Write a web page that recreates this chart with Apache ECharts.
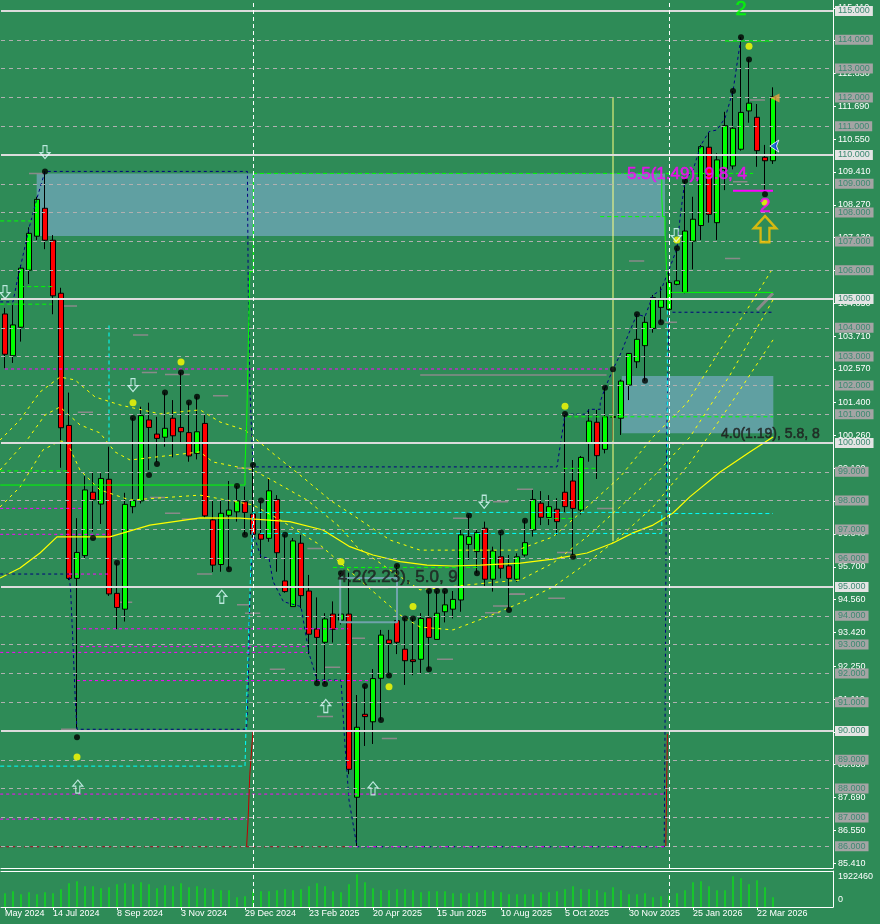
<!DOCTYPE html>
<html><head><meta charset="utf-8">
<script src="https://cdn.jsdelivr.net/npm/echarts@6/dist/echarts.min.js"></script>
<style>html,body{margin:0;padding:0;background:#2e8b57}#c{width:880px;height:924px}</style>
</head><body><div id="c"></div>
<script>
// ---------------- data (weekly bars) ----------------
const opens = [104.48,103.03,104.02,106.00,107.18,108.15,107.04,105.20,100.61,95.30,
96.09,98.29,97.88,98.74,94.78,94.23,97.79,97.99,100.80,100.31,
100.20,100.86,100.54,100.36,99.64,100.68,97.33,95.78,97.49,97.61,
97.96,97.53,96.84,96.69,98.04,95.21,94.32,96.52,94.86,93.54,
93.08,94.06,93.85,94.06,87.70,90.58,90.32,91.83,93.16,93.83,
92.84,92.47,92.49,93.93,93.18,94.14,94.23,94.55,96.48,96.23,
97.04,95.27,96.05,95.73,95.27,96.11,96.98,97.91,97.41,97.70,
98.29,98.68,97.67,99.99,100.72,99.78,100.89,100.86,102.01,102.82,
103.38,103.98,104.71,104.64,105.51,105.23,107.01,107.55,110.27,107.65,
109.50,109.62,110.20,111.53,111.31,109.92,109.80];
const highs = [104.69,104.79,106.18,107.49,108.55,109.43,107.22,105.39,101.75,97.39,
98.85,99.00,98.95,99.87,95.84,98.27,100.87,101.26,101.40,100.91,
101.75,101.49,102.45,101.41,101.61,100.97,97.99,98.02,98.68,98.51,
98.48,99.24,98.02,98.77,98.19,96.81,96.70,96.81,95.42,94.64,
94.09,94.50,95.48,95.50,91.25,91.54,92.15,93.51,93.51,95.76,
93.91,93.91,94.09,94.86,94.86,94.86,94.86,96.98,97.50,96.98,
97.27,96.40,96.92,96.11,96.17,97.33,98.37,98.33,98.19,98.08,
101.01,99.41,99.55,101.17,101.15,101.92,102.56,102.20,103.12,104.47,
104.39,105.14,105.43,105.95,106.76,109.10,108.55,110.35,110.77,110.06,
111.50,112.22,114.09,113.32,111.77,110.35,112.35];
const lows = [102.60,102.78,103.52,105.52,107.05,106.73,104.47,99.14,95.24,90.09,
96.00,96.92,97.19,94.69,93.54,93.80,97.56,97.90,99.06,99.34,
99.87,99.50,99.99,99.35,99.43,97.40,95.52,95.53,95.62,97.27,
96.81,96.72,96.00,96.57,95.53,94.80,94.32,94.26,92.67,91.71,
91.65,93.07,93.70,88.50,85.98,89.48,89.55,90.38,91.94,92.67,
91.60,91.94,92.00,92.14,93.18,93.77,93.91,94.14,95.94,95.48,
95.03,94.84,95.30,94.26,95.18,96.05,96.75,97.15,97.15,96.81,
97.60,96.05,97.52,99.35,98.75,99.64,100.08,100.28,101.49,102.60,
102.16,103.83,104.19,104.60,105.48,105.20,106.03,107.05,107.65,107.05,
108.78,109.50,110.15,111.12,109.59,108.72,109.69];
const closes = [103.08,104.10,106.07,107.28,108.46,107.04,105.11,100.53,95.30,96.20,
98.37,98.03,98.77,94.76,94.29,97.87,98.00,100.95,100.54,100.16,
100.51,100.25,100.39,99.55,100.39,97.47,95.76,97.56,97.67,97.99,
97.59,96.83,96.66,98.34,96.19,94.84,96.60,94.70,93.36,93.25,
93.89,93.53,94.06,88.67,90.13,90.50,91.82,93.33,93.04,93.08,
92.44,92.41,93.91,93.25,94.09,94.38,94.57,96.81,96.75,96.89,
95.27,96.25,95.65,95.30,96.05,96.54,98.04,97.42,97.79,97.27,
97.79,97.73,99.50,100.76,99.56,100.91,100.92,102.15,103.11,103.60,
104.19,105.05,104.97,105.57,105.63,107.36,107.77,110.29,107.94,109.83,
111.02,110.93,111.48,111.80,110.15,109.80,112.02];
const volumes = [732000,838000,678000,785000,678000,785000,732000,945000,1266000,1372000,
1105000,1105000,999000,1052000,1212000,1266000,1212000,1319000,1212000,999000,
1159000,1105000,1266000,1052000,1105000,999000,945000,892000,892000,518000,
571000,838000,838000,838000,892000,945000,892000,945000,1105000,1266000,
1105000,838000,785000,1212000,1746000,1319000,999000,892000,892000,945000,
945000,892000,785000,838000,838000,838000,732000,732000,732000,785000,
892000,838000,785000,678000,678000,678000,678000,785000,785000,838000,
945000,1105000,945000,945000,892000,785000,1052000,892000,678000,678000,
732000,518000,571000,625000,732000,892000,1319000,1372000,1105000,892000,
892000,1639000,1533000,1212000,1426000,1052000,518000];
const dateTicks = [[0,'May 2024'],[6,'14 Jul 2024'],[14,'8 Sep 2024'],[22,'3 Nov 2024'],[30,'29 Dec 2024'],
 [38,'23 Feb 2025'],[46,'20 Apr 2025'],[54,'15 Jun 2025'],[62,'10 Aug 2025'],[70,'5 Oct 2025'],
 [78,'30 Nov 2025'],[86,'25 Jan 2026'],[94,'22 Mar 2026']];
const priceTicks = [85.41,86.55,87.69,88.83,89.97,91.11,92.25,93.42,94.56,95.70,96.84,97.98,99.12,
 100.26,101.40,102.57,103.71,104.85,105.99,107.13,108.27,109.41,110.55,111.69,112.83,113.97,115.11];
const levelLines = [86,87,88,89,90,91,92,93,94,95,96,97,98,99,100,101,102,103,104,105,106,107,108,109,110,111,112,113,114,115];
const majorLevels = [90,95,100,105,110,115];
const separators = [31,83];
const volMaxLabel = 1922460;

const blackDots = [[5,109.43],[14,95.84],[16,100.87],[20,101.75],[22,102.45],[23,101.41],[24,101.61],[29,98.51],[31,99.24],[32,98.0],[35,96.81],[42,95.48],[45,91.56],[49,95.73],[50,93.91],[51,93.91],[53,94.86],[54,94.86],[55,94.86],[58,97.48],[62,96.89],[65,97.30],[70,101.01],[75,101.92],[76,102.56],[79,104.47],[84,106.76],[85,109.10],[91,112.22],[92,114.09],[93,113.32],
 [9,89.78],[11,96.70],[18,98.89],[19,99.27],[28,95.62],[30,96.81],[39,91.66],[40,91.63],[47,90.38],[48,91.93],[53,92.14],[59,95.48],[63,94.2],[71,96.05],[80,102.16],[82,104.19],[95,108.64]];
const yellowDots = [[9,89.10],[16,101.40],[22,102.81],[42,95.88],[48,91.54],[51,94.32],[70,101.28],[84,107.05],[93,113.78],[95,108.36]];
const arrowsDown = [[0,105.24],[5,110.10],[16,102.01],[59.9,97.96],[83.9,107.22]];
const arrowsUp = [[9.1,88.07],[27.1,94.66],[40.1,90.87],[46,88.01]];
const bigArrow = [[95,107.43]];

// overlay lines (bar index, price)
const navyUpper = [[-0.6,104.90],[1,104.90],[1.5,105.6],[2,106.2],[3,107.45],[4,108.5],[5,109.43],[30.3,109.43],[30.4,105.5],[30.6,102],[31,99.17],[69,99.17],[70,101.0],[72.6,101.0],[73,101.17],[74.4,101.17],[74.4,101.43],[75,101.9],[76,102.56],[77,103.13],[78,103.82],[79,104.47],[80,104.39],[81,105.14],[82,105.31],[83,106.01],[84,106.76],[84.4,107.86],[85,109.13],[86,109.48],[87,110.35],[88,110.81],[89,110.87],[90,111.28],[91,112.22],[92,114.09]];
const navyLower = [[-0.6,95.45],[8,95.45],[8.2,94.9],[8.5,93.0],[8.8,91.0],[9,90.06],[30.2,90.06],[30.4,91.5],[30.6,94.5],[31,96.87],[32,96.05],[33,96.0],[33.5,95.2],[34.8,94.49],[37,94.32],[38,92.70],[39,91.77],[42,91.77],[42.5,89.5],[43,87.6],[44,85.98],[82.4,85.98],[82.5,90],[82.7,100],[83,104.54],[96,104.54]];
const maSolid = [[-0.625,95.31],[1.875,95.66],[4.375,96.18],[6.5,96.74],[13.1,96.74],[18.1,97.15],[24.4,97.40],[29.4,97.39],[35.6,97.27],[39.75,96.98],[43.1,96.40],[46,96.11],[49.4,95.88],[52.75,95.76],[56,95.73],[59.4,95.76],[64.4,95.83],[68.5,95.97],[72.75,96.18],[76,96.53],[78.5,96.88],[81,97.15],[83.5,97.57],[85.6,98.13],[89.4,98.99],[93.1,99.69],[96,100.21]];
const bandUpper = [[-0.625,100.10],[1.875,100.80],[4.375,101.77],[6.875,102.29],[8.75,102.19],[11.25,101.60],[14.375,101.32],[19.375,101.01],[24.375,101.15],[26.875,100.73],[30,100.45],[33.75,99.58],[36.875,98.89],[40.625,98.02],[44.375,97.33],[48.125,96.63],[51.875,96.28],[58.125,96.28],[64,96.28],[68.5,96.74],[72.75,97.78],[76.875,98.82],[81,100.21],[85.25,101.39],[89.375,103.23],[93.125,104.79],[96,106.08]];
const bandMiddle = [[-0.625,99.06],[2.75,100.10],[5,100.97],[6.875,101.25],[9.375,100.63],[11.875,100.35],[13.75,99.69],[15.625,99.41],[24.375,99.69],[26,99.34],[31,99.06],[33.75,98.65],[37.75,98.02],[41.875,97.08],[44,96.39],[48.125,95.59],[51.875,94.90],[60.25,95.14],[64.375,95.24],[68.5,95.83],[72.75,96.74],[76.875,97.78],[81,98.82],[85.625,100.21],[90.625,102.36],[96,104.97]];
const bandLower = [[-0.625,97.78],[1.875,98.47],[4.75,99.76],[6.875,100.07],[7.75,100.03],[9.375,99.06],[11.875,98.37],[15.625,98.02],[24.375,98.19],[31,97.85],[34.375,97.33],[39.375,96.46],[44.375,95.24],[49.375,94.03],[51.875,93.61],[56,93.51],[60.25,93.96],[64.375,94.44],[68.5,95.0],[72.75,95.83],[76.875,96.74],[81,97.78],[85.625,99.31],[90.625,101.32],[96,103.58]];
const limeSolid = [
 [[-0.6,98.54],[30,98.54],[30,99.24],[30.2,99.24],[30.2,100.57],[30.4,100.57],[30.4,103.23],[30.6,103.23],[30.6,105.95],[31.04,105.95],[31.04,109.3]],
 [[82.1,109.3],[82.1,108.55],[82.2,108.55],[82.2,107.86],[82.5,107.86],[82.5,107.28],[82.7,107.28],[82.7,106.0],[82.9,106.0],[82.9,105.23],[96,105.23]],
 [[90,113.96],[96,113.96]]];
const limeDashed = [
 [[31,109.36],[93.5,109.36]], [[-0.6,107.71],[3.6,107.71]], [[74.4,107.86],[82.2,107.86]],
 [[1.9,105.43],[5.9,105.43]], [[-0.6,104.82],[5.9,104.82]], [[-0.6,99.03],[7.9,99.03]],
 [[41,95.68],[59,95.68]], [[70.3,100.91],[96,100.91]], [[69.8,99.12],[74,99.12]], [[67.8,97.38],[71,97.38]]];
const cyanDashed = [
 [[-0.6,88.78],[30,88.78],[30.3,92],[30.7,95.5],[31,97.59],[82.1,97.59],[82.1,96.86]],
 [[31.9,96.86],[82.1,96.86]],
 [[82.8,104.6],[82.8,97.55],[96,97.55]],
 [[13,104.08],[13,100.0]]];
const magentaDashed = [
 [[0,102.57],[76,102.57]], [[-0.6,97.73],[9.8,97.73]], [[-0.6,96.83],[13,96.83]], [[8,95.45],[13,95.45]],
 [[9,93.55],[42.9,93.55]], [[9.4,92.93],[37.8,92.93]], [[-0.6,92.73],[37.8,92.73]], [[9,91.75],[45.6,91.75]],
 [[-0.6,87.81],[82.4,87.81]], [[-0.6,86.94],[30.3,86.94]], [[43,85.98],[82.4,85.98]]];
const darkRed = [[[-0.6,85.98],[43,85.98]]];
const redVerticals = [[[31,90.0],[30.6,88.5],[30.4,87],[30.2,85.98]], [[82.8,89.9],[82.7,88.0],[82.6,85.98]]];
const yellowVertical = [[76,112.01],[76,96.60]];
const boxOutline = [[41.9,95.31],[49.0,95.31],[49.0,93.78],[41.9,93.78],[41.9,95.31]];
const magentaSolid = [[91,108.76],[96,108.76]];
const rectangles = [[[3.96,109.36],[82.5,107.19]], [[77.1,102.33],[96.04,100.34]]];
// short grey level marks: [from bar, to bar, price]
const greyMarks = [[3,5,109.36],[7.1,9,104.76],[16,17.9,103.75],[17.1,19,102.45],[20,23.1,102.38],[26,27.9,101.64],[9.1,11,101.07],[29,31,99.12],
 [18.1,20,98.11],[20,21.9,97.56],[22.1,24,97.36],[24,25.9,95.45],[29,30.6,94.38],[30,31.9,94.09],[14,15.9,94.47],[7,9,90.06],
 [37.8,39.8,96.34],[33.1,35,92.14],[40,41.9,92.21],[39,41,90.50],[43.1,45,93.22],[46,47.9,94.98],[47.1,49,89.74],[54,56,92.49],
 [61,62.9,97.96],[64,66,98.39],[63.1,65,94.76],[61,62.9,94.34],[56,58.1,97.39],[60,61.9,94.11],
 [74,76,97.73],[69,71,96.20],[62.9,65,94.75],[67.9,70,94.61],[90,91.9,106.41],[78,79.9,106.32],[82.5,84,104.19],[91,92.8,109.07],[93.1,95,111.91],
 [51.9,75.2,102.36]];
const greyDiagonal = [[94,104.62],[96,105.2]];
const notes = [
 {t:'2', at:[92,115.07], c:'#00ff00', s:20, a:'center'},
 {t:'2', at:[95,108.2], c:'#ff00ff', s:20, a:'center'},
 {t:'5.5(1.49), 9.8, 4', at:[77.75,109.34], c:'#ff00ff', s:17, a:'left'},
 {t:'4.2(2.23), 5.0, 9', at:[41.6,95.32], c:'#1e1e1e', s:17, a:'left'},
 {t:'4.0(1.19), 5.8, 8', at:[89.5,100.31], c:'#1e1e1e', s:14, a:'left'}];

// ---------------- chart ----------------
const N = 104;
const cats = Array.from({length:N}, (_, i) => String(i));
const tickMap = {}; dateTicks.forEach(d => tickMap[d[0]] = d[1]);
const candles = opens.map((o, i) => [o, closes[i], lows[i], highs[i]]);
const FONT = 'Liberation Sans, Arial, sans-serif';

function ln(data, color, width, type, z) {
  return {type:'line', xAxisIndex:1, yAxisIndex:0, data, symbol:'none', silent:true, animation:false,
    lineStyle:{color, width, type}, z: z || 4};
}
const overlay = [];
greyMarks.forEach(g => overlay.push(ln([[g[0], g[2]], [g[1], g[2]]], '#8a8a8a', 1.5, 'solid', 2)));
overlay.push(ln(greyDiagonal, '#8a8a8a', 3, 'solid', 4));
overlay.push(ln(maSolid, '#ffff00', 1.2, 'solid', 4));
[bandUpper, bandMiddle, bandLower].forEach(d => overlay.push(ln(d, '#ffff00', 1, [3,4], 4)));
overlay.push(ln(navyUpper, '#000080', 1, [3,3], 4));
overlay.push(ln(navyLower, '#000080', 1, [3,3], 4));
limeSolid.forEach(d => overlay.push(ln(d, '#00ff00', 1, 'solid', 4)));
limeDashed.forEach(d => overlay.push(ln(d, '#00ff00', 1, [4,3], 4)));
cyanDashed.forEach(d => overlay.push(ln(d, '#00ffff', 1, [4,3], 4)));
magentaDashed.forEach(d => overlay.push(ln(d, '#ff00ff', 1, [3,3], 4)));
darkRed.forEach(d => overlay.push(ln(d, '#b00020', 1, [3,3], 4)));
redVerticals.forEach(d => overlay.push(ln(d, '#c00000', 1, 'solid', 4)));
overlay.push(ln(yellowVertical, '#ffff80', 1, 'solid', 4));
overlay.push(ln(boxOutline, '#6fa3ab', 2, 'solid', 4));
overlay.push(ln(magentaSolid, '#ff00ff', 2, 'solid', 4));

const levelMarks = levelLines.map(v => {
  const major = majorLevels.includes(v);
  return {yAxis: v,
    lineStyle: major ? {color:'#dcdcdc', width:2, type:'solid'} : {color:'#b0b0b0', width:1, type:[4,4]},
    label: {show:true, position:'end', distance:2, formatter: v.toFixed(3), fontSize:9, fontFamily:FONT,
      color:'#3d8a72', backgroundColor: major ? '#e4e4e4' : '#a4a4a4', padding:[1,3,0,3], lineHeight:9}};
});
const sepMarks = separators.map(s => ({xAxis: s, lineStyle:{color:'#ffffff', width:1, type:[4,3]}, label:{show:false}}));

const hollow = (c, w) => ({color:'rgba(0,0,0,0)', borderColor:c, borderWidth:w});
const downPath = 'path://M3,0L7,0L7,7L10,7L5,13L0,7L3,7Z';
const upPath = 'path://M5,0L10,6L7,6L7,13L3,13L3,6L0,6Z';

const option = {
  animation:false,
  backgroundColor:'#2e8b57',
  textStyle:{fontFamily:FONT},
  grid:[{left:1, top:0, width:832, height:868}, {left:1, top:871, width:832, height:36}],
  xAxis:[
    {type:'category', gridIndex:0, data:cats, boundaryGap:true, axisLine:{show:true, onZero:false, lineStyle:{color:'#ffffff'}}, axisTick:{show:false}, axisLabel:{show:false}, splitLine:{show:false}},
    {type:'value', gridIndex:0, min:-0.5, max:103.5, show:false, axisLine:{onZero:false}},
    {type:'category', gridIndex:1, data:cats, boundaryGap:true, axisLine:{show:true, onZero:false, lineStyle:{color:'#ffffff'}},
      axisTick:{show:true, alignWithLabel:true, length:3, interval:(i) => tickMap[i] !== undefined, lineStyle:{color:'#ffffff'}},
      axisLabel:{show:true, interval:(i) => tickMap[i] !== undefined, formatter:(v, i) => tickMap[i] || '', color:'#ffffff', fontSize:9, align:'left', margin:2, fontFamily:FONT},
      splitLine:{show:false}},
    {type:'category', gridIndex:1, data:cats, position:'top', axisLine:{show:true, onZero:false, lineStyle:{color:'#ffffff'}}, axisTick:{show:false}, axisLabel:{show:false}}
  ],
  yAxis:[
    {type:'value', gridIndex:0, position:'right', min:85.243, max:115.382, scale:true,
      axisLine:{show:true, onZero:false, lineStyle:{color:'#ffffff'}}, splitLine:{show:false},
      axisTick:{show:true, length:3, customValues:priceTicks, lineStyle:{color:'#ffffff'}},
      axisLabel:{show:true, customValues:priceTicks, formatter:(v) => v.toFixed(3), color:'#ffffff', fontSize:9, margin:5, fontFamily:FONT}},
    {type:'value', gridIndex:1, position:'right', min:0, max:volMaxLabel,
      axisLine:{show:true, onZero:false, lineStyle:{color:'#ffffff'}}, splitLine:{show:false}, axisTick:{show:false},
      axisLabel:{show:true, customValues:[373812, 1602050], formatter:(v) => v > 1e6 ? String(volMaxLabel) : '0', color:'#ffffff', fontSize:9, margin:5, fontFamily:FONT}}
  ],
  series:[
    {type:'line', xAxisIndex:1, yAxisIndex:0, data:[], symbol:'none', silent:true, z:1,
      markArea:{silent:true, itemStyle:{color:'#60a0a2'}, data: rectangles.map(r => [{coord:r[0]}, {coord:r[1]}])}},
    {type:'candlestick', xAxisIndex:0, yAxisIndex:0, data:candles, barWidth:5, z:3,
      itemStyle:{color:'#00ff00', color0:'#ff0000', borderColor:'#000000', borderColor0:'#000000', borderWidth:1}},
    {type:'line', xAxisIndex:1, yAxisIndex:0, data:[], symbol:'none', silent:true, z:5,
      markLine:{silent:true, symbol:['none','none'], animation:false, data: levelMarks.concat(sepMarks.map(m => Object.assign({}, m)))}},
    {type:'bar', xAxisIndex:2, yAxisIndex:1, data:volumes, barWidth:1, itemStyle:{color:'#00ff00'}, z:3,
      markLine:{silent:true, symbol:['none','none'], animation:false, data: sepMarks}},
    ...overlay,
    {type:'scatter', xAxisIndex:1, yAxisIndex:0, data:blackDots, symbolSize:6, itemStyle:{color:'#000000'}, z:6, silent:true},
    {type:'scatter', xAxisIndex:1, yAxisIndex:0, data:yellowDots, symbolSize:7, itemStyle:{color:'#ffff00'}, z:6, silent:true},
    {type:'scatter', xAxisIndex:1, yAxisIndex:0, data:arrowsDown, symbol:downPath, symbolSize:[10,13], itemStyle:hollow('#e0ffff',1.2), z:6, silent:true},
    {type:'scatter', xAxisIndex:1, yAxisIndex:0, data:arrowsUp, symbol:upPath, symbolSize:[10,13], itemStyle:hollow('#e0ffff',1.2), z:6, silent:true},
    {type:'scatter', xAxisIndex:1, yAxisIndex:0, data:bigArrow, symbol:upPath, symbolSize:[22,26], itemStyle:hollow('#ffc400',2.5), z:6, silent:true},
    {type:'scatter', xAxisIndex:1, yAxisIndex:0, data:[[96.25,111.98]], symbol:'triangle', symbolRotate:90, symbolSize:9, itemStyle:{color:'#e8a040'}, z:6, silent:true},
    {type:'scatter', xAxisIndex:1, yAxisIndex:0, data:[[95.6,110.31]], symbol:'arrow', symbolRotate:90, symbolSize:9, itemStyle:{color:'#2050ff', borderColor:'#ffffff', borderWidth:1}, z:6, silent:true},
    {type:'scatter', xAxisIndex:1, yAxisIndex:0, symbolSize:1, itemStyle:{color:'rgba(0,0,0,0)'}, z:7, silent:true,
      data: notes.map(n => ({value:n.at, label:{show:true, position:'inside', formatter:n.t, color:n.c, fontSize:n.s, align:n.a, verticalAlign:'middle', fontFamily:FONT, textBorderColor:n.c, textBorderWidth:0.6, textShadowBlur:0}}))}
  ]
};
const chart = echarts.init(document.getElementById('c'), null, {renderer:'canvas', width:880, height:924});
chart.setOption(option);
</script>
</body></html>
